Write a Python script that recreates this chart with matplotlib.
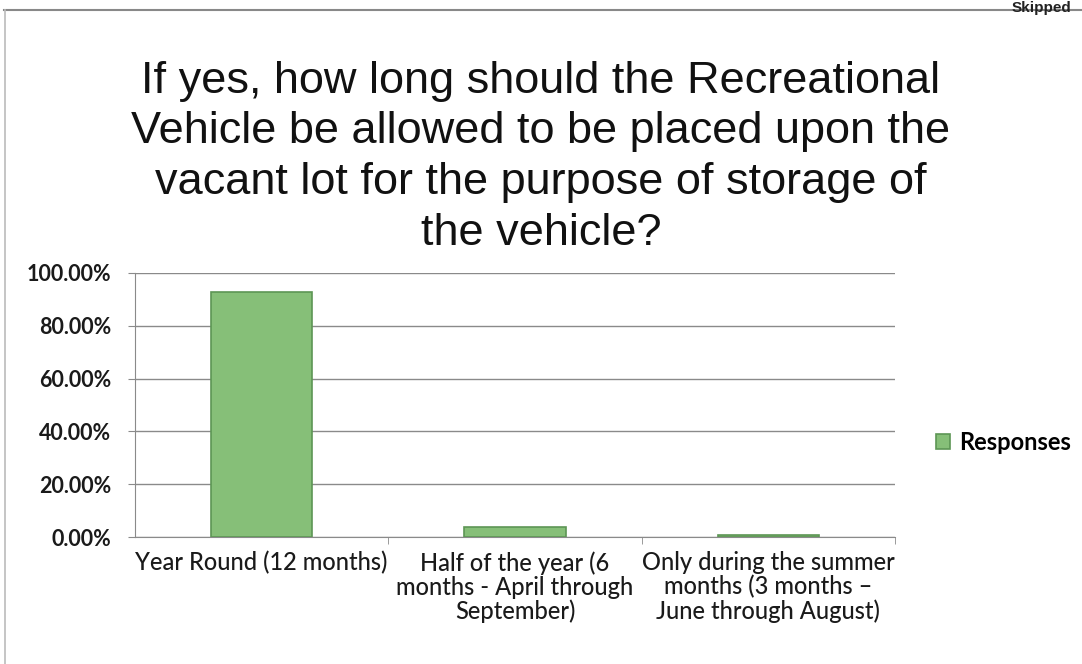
import matplotlib.pyplot as plt
from matplotlib.lines import Line2D
import numpy as np

## Daten
categories = ['Year Round (12 months)',
              'Half of the year (6\nmonths - April through\nSeptember)',
              'Only during the summer\nmonths (3 months \u2013\nJune through August)']
responses = [92.8, 3.9, 0.7]          # Prozent
yticks = [0, 20, 40, 60, 80, 100]

title = ('If yes, how long should the Recreational\nVehicle be allowed to be placed upon the\n'
         'vacant lot for the purpose of storage of\nthe vehicle?')

## Plotten
fig = plt.figure(figsize=(10.82, 6.64), dpi=100)
ax = fig.add_axes([0.1248, 0.191, 0.7022, 0.398])

x = np.arange(len(categories))
ax.bar(x, responses, width=0.4, color='#86bf78', edgecolor='#5d9655', linewidth=1.2,
       label='Responses', zorder=3)

ax.set_xlim(-0.5, 2.5)
ax.set_ylim(0, 100)
ax.set_yticks(yticks)
ax.set_yticklabels(['%.2f%%' % v for v in yticks], fontsize=15.5, family='Lato',
                   fontweight='bold', color='#1a1a1a')
ax.grid(axis='y', color='#8a8a8a', linewidth=1.0, zorder=0)

ax.set_xticks(x)
ax.set_xticklabels(categories, fontsize=17, family='Lato', color='#1a1a1a',
                   linespacing=1.05, va='top', fontweight='medium')
ax.tick_params(axis='x', length=0, pad=10)
ax.set_xticks([0.5, 1.5, 2.5], minor=True)
ax.tick_params(axis='x', which='minor', length=5, color='#8a8a8a')
ax.tick_params(axis='y', length=5, color='#8a8a8a', pad=12)

for s in ['top', 'right']:
    ax.spines[s].set_visible(False)
ax.spines['left'].set_color('#8a8a8a')
ax.spines['bottom'].set_color('#8a8a8a')

fig.text(0.5, 0.618, title, ha='center', va='bottom', fontsize=32.5,
         family='Liberation Sans', color='#111111', linespacing=1.30)

ax.legend(loc='center left', bbox_to_anchor=(1.026, 0.36), frameon=False,
          handlelength=0.6, handleheight=0.6, handletextpad=0.4,
          prop={'family': 'Lato', 'weight': 'bold', 'size': 17})

# Rahmen vom Scan
fig.add_artist(Line2D([0.004, 1.0], [0.985, 0.985], color='#888888', linewidth=1.5))
fig.add_artist(Line2D([0.005, 0.005], [0.0, 0.985], color='#bbbbbb', linewidth=1.2))
fig.text(0.99, 0.999, 'Skipped', fontsize=11, family='Liberation Sans', ha='right',
         fontweight='bold', color='#222222', va='top')

## Output
fig.savefig('out.png', dpi=100)
